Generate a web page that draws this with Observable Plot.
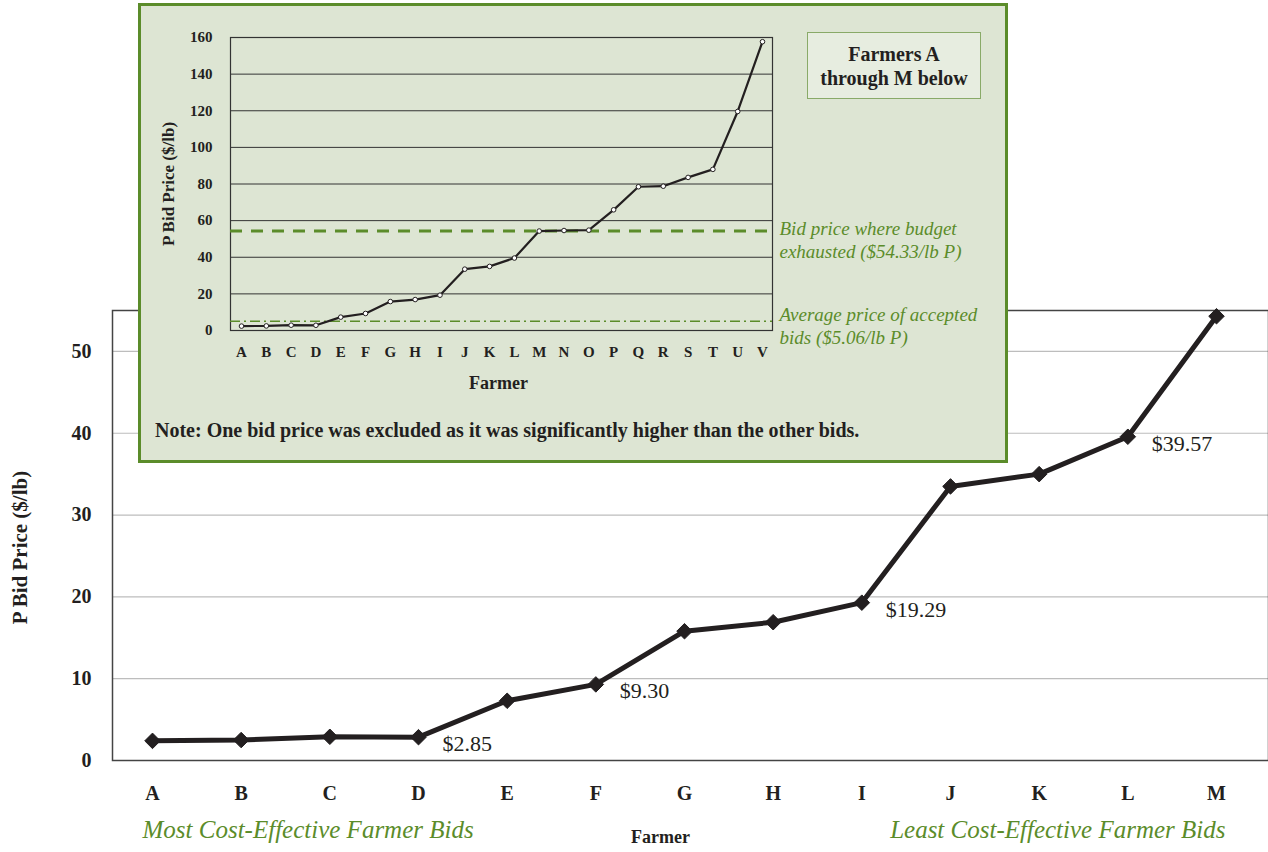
<!DOCTYPE html>
<html>
<head>
<meta charset="utf-8">
<script src="https://cdn.jsdelivr.net/npm/d3@7"></script>
<script src="https://cdn.jsdelivr.net/npm/@observablehq/plot@0.6"></script>
<style>
  html, body { margin: 0; padding: 0; background: #fff; }
  #main { position: absolute; left: 0; top: 0; }
  #inset { position: absolute; left: 138px; top: 3px; width: 870px; height: 460px; box-sizing: border-box;
           border: 3px solid #5b8c2a; background: #dde5d3; }
  #inset svg { position: absolute; left: 0; top: 0; }
  #legend { position: absolute; left: 666px; top: 26px; width: 174px; height: 67px; box-sizing: border-box;
            border: 1px solid #89aa68; background: #e7ede0; font: bold 20px "Liberation Serif", serif;
            color: #231f20; text-align: center; display: flex; align-items: center; justify-content: center; line-height: 1.2; }
  #note { position: absolute; left: 14px; top: 413px; font: bold 20px "Liberation Serif", serif; color: #231f20; white-space: nowrap; line-height: 23px; }
</style>
</head>
<body>
<div id="main"></div>
<div id="inset"><div id="legend">Farmers A<br>through M below</div><div id="note">Note: One bid price was excluded as it was significantly higher than the other bids.</div></div>
<script>
// Main chart data (farmers A–M)
const farmers = ["A","B","C","D","E","F","G","H","I","J","K","L","M"];
const bids = [2.4, 2.5, 2.9, 2.85, 7.3, 9.30, 15.8, 16.9, 19.29, 33.5, 35.0, 39.57, 54.3];
const labeledFarmers = ["D","F","I","L"];
const labelTexts = ["$2.85","$9.30","$19.29","$39.57"];
const mainTicks = [0,10,20,30,40,50];

// Inset data (farmers A–V)
const allFarmers = ["A","B","C","D","E","F","G","H","I","J","K","L","M","N","O","P","Q","R","S","T","U","V"];
const allBids = [2.4, 2.5, 2.9, 2.85, 7.3, 9.30, 15.8, 16.9, 19.29, 33.5, 35.0, 39.57, 54.3, 54.6, 54.8, 65.9, 78.5, 78.8, 83.6, 88.0, 119.6, 157.7];
const insetTicks = [0,20,40,60,80,100,120,140,160];
const budgetPrice = 54.33;
const avgPrice = 5.06;

const green = "#5b8c2a";
const ink = "#231f20";
const serif = "Liberation Serif, Times New Roman, serif";

const mainData = farmers.map((f, i) => ({farmer: f, bid: bids[i]}));
const labelData = labeledFarmers.map((f, i) => ({farmer: f, bid: bids[farmers.indexOf(f)], text: labelTexts[i]}));

const main = Plot.plot({
  width: 1268, height: 852,
  marginLeft: 112, marginRight: 0, marginTop: 310, marginBottom: 92,
  style: {fontFamily: serif, background: "transparent", color: ink, overflow: "visible"},
  x: {type: "point", domain: farmers, padding: 0, round: false, insetLeft: 40, insetRight: 52, label: null},
  y: {domain: [0, 55], label: null},
  marks: [
    Plot.gridY([10,20,30,40,50], {stroke: "#bdbdbd", strokeOpacity: 1, strokeWidth: 1.2}),
    Plot.frame({stroke: "#444", strokeWidth: 1.5}),
    Plot.axisY({ticks: mainTicks, tickSize: 0, tickPadding: 21, fontSize: 20, fontWeight: "bold", label: null}),
    Plot.axisX({tickSize: 0, tickPadding: 25, fontSize: 20, fontWeight: "bold", label: null}),
    Plot.text(["P Bid Price ($/lb)"], {frameAnchor: "left", textAnchor: "middle", rotate: -90, dx: -92, dy: 12, fontSize: 21, fontWeight: "bold", fill: ink}),
    Plot.text(["Farmer"], {frameAnchor: "bottom", dx: -30, dy: 82, fontSize: 18, fontWeight: "bold", fill: ink}),
    Plot.text(["Most Cost-Effective Farmer Bids"], {x: () => "A", frameAnchor: "bottom", textAnchor: "start", dx: -10, dy: 77, fontSize: 25, fontStyle: "italic", fill: green}),
    Plot.text(["Least Cost-Effective Farmer Bids"], {x: () => "M", frameAnchor: "bottom", textAnchor: "end", dx: 9, dy: 77, fontSize: 25, fontStyle: "italic", fill: green}),
    Plot.line(mainData, {x: "farmer", y: "bid", stroke: ink, strokeWidth: 5}),
    Plot.dot(mainData, {x: "farmer", y: "bid", symbol: "diamond2", r: 7, fill: ink, stroke: ink, strokeWidth: 1}),
    Plot.text(labelData, {x: "farmer", y: "bid", text: "text", textAnchor: "start", dx: 24, dy: 7, fontSize: 22, fill: ink})
  ]
});
document.getElementById("main").appendChild(main);

const insetData = allFarmers.map((f, i) => ({farmer: f, bid: allBids[i]}));

const inset = Plot.plot({
  width: 864, height: 454,
  marginLeft: 89, marginRight: 233, marginTop: 31, marginBottom: 130,
  style: {fontFamily: serif, background: "transparent", color: ink, overflow: "visible"},
  x: {type: "point", domain: allFarmers, padding: 0, round: false, insetLeft: 11, insetRight: 10, label: null},
  y: {domain: [0, 160], label: null},
  marks: [
    Plot.gridY(insetTicks, {stroke: "#333", strokeOpacity: 1, strokeWidth: 1}),
    Plot.frame({stroke: "#333", strokeWidth: 1.2}),
    Plot.axisY({ticks: insetTicks, tickSize: 0, tickPadding: 18, fontSize: 15, fontWeight: "bold", label: null}),
    Plot.axisX({tickSize: 0, tickPadding: 16, fontSize: 15, fontWeight: "bold", label: null}),
    Plot.text(["P Bid Price ($/lb)"], {frameAnchor: "left", textAnchor: "middle", rotate: -90, dx: -62, dy: 0, fontSize: 17, fontWeight: "bold", fill: ink}),
    Plot.text(["Farmer"], {frameAnchor: "bottom", dx: -3, dy: 58, fontSize: 18, fontWeight: "bold", fill: ink}),
    Plot.ruleY([avgPrice], {stroke: green, strokeWidth: 1.5, strokeDasharray: "10,4,2,4"}),
    Plot.ruleY([budgetPrice], {stroke: green, strokeWidth: 3, strokeDasharray: "12,9"}),
    Plot.text(["Bid price where budget\nexhausted ($54.33/lb P)"], {y: () => budgetPrice, frameAnchor: "right", textAnchor: "start", lineAnchor: "top", dx: 7, dy: -12, fontSize: 19, fontStyle: "italic", lineHeight: 1.2, fill: green}),
    Plot.text(["Average price of accepted\nbids ($5.06/lb P)"], {y: () => avgPrice, frameAnchor: "right", textAnchor: "start", lineAnchor: "top", dx: 7, dy: -16, fontSize: 19, fontStyle: "italic", lineHeight: 1.2, fill: green}),
    Plot.line(insetData, {x: "farmer", y: "bid", stroke: ink, strokeWidth: 2.2}),
    Plot.dot(insetData, {x: "farmer", y: "bid", r: 2.3, fill: "white", stroke: ink, strokeWidth: 1})
  ]
});
document.getElementById("inset").appendChild(inset);
</script>
</body>
</html>
